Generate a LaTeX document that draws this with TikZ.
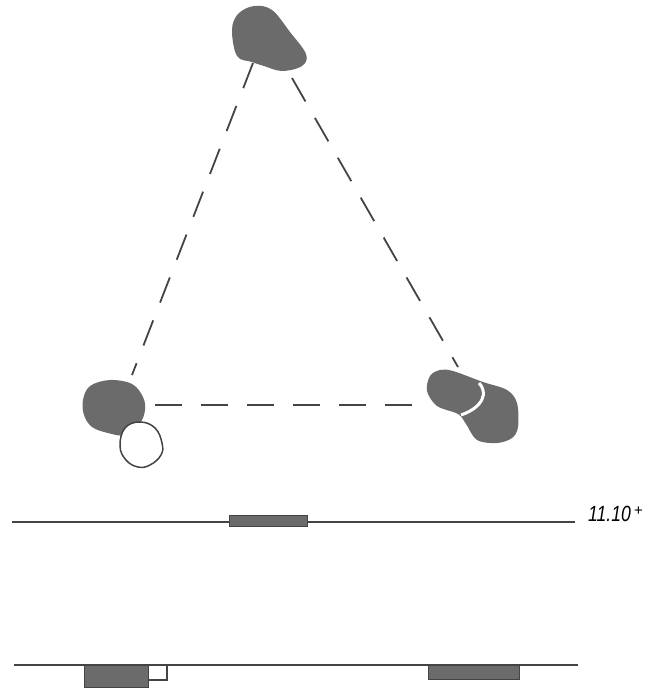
\documentclass[tikz,border=0pt]{standalone}
\usepackage{fontspec}
\setsansfont{Liberation Sans}
\begin{document}
\begin{tikzpicture}[x={(1pt,0)},y={(0,-1pt)},
  blob/.style={fill=blobgrey,draw=none},
  link/.style={draw=linegrey,line width=1.8pt,dash pattern=on 27pt off 19pt},
  axis/.style={draw=linegrey,line width=1.3pt},
  bar/.style={fill=blobgrey,draw=linegrey,line width=0.8pt},
  openbar/.style={fill=white,draw=linegrey,line width=1.2pt}]
\definecolor{blobgrey}{HTML}{6B6B6B}
\definecolor{linegrey}{HTML}{444444}
\useasboundingbox (0,0) rectangle (664,694);
% blobs
\fill[blob] plot[smooth cycle,tension=0.6] coordinates {(232,30) (238,14) (254,6) (272,10) (290,32) (306,54) (302,66) (282,71) (264,66) (252,62) (237,56)};
\fill[blob] plot[smooth cycle,tension=0.6] coordinates {(83,400) (90,386) (110,380) (132,384) (143,397) (145,410) (140,423) (125,435) (108,433) (92,427) (84,415)};
\filldraw[fill=white,draw=linegrey,line width=1.5pt] plot[smooth cycle,tension=0.7] coordinates {(125,428) (140,422) (155,428) (162,443) (161,455) (150,465) (138,467) (126,460) (120,446)};
\fill[blob] plot[smooth cycle,tension=0.55] coordinates {(430,376) (440,370) (453,371) (483,382) (507,390) (517,403) (518,427) (512,438) (497,443) (477,440) (466,424) (458,414) (437,406) (427,391)};
\draw[white,line width=3pt] (479,383) .. controls (488,392) and (484,407) .. (461,415);
% connectors
\coordinate (tl) at (253,63); \coordinate (bl) at (132,375);
\coordinate (tr) at (292,78); \coordinate (br) at (458,367);
\coordinate (lb) at (155,405); \coordinate (rb) at (413,405);
\draw[link] (tl) -- (bl);
\draw[link] (tr) -- (br);
\draw[link] (lb) -- (rb);
% top track
\coordinate (a1) at (12,522); \coordinate (a2) at (575,522);
\draw[axis] (a1) -- (a2);
\draw[bar] (229,515) rectangle (307,526);
\node[anchor=base west,inner sep=0pt,text=black,font=\sffamily\itshape\fontsize{22}{22}\selectfont] (lab) at (588,521) {\scalebox{0.80}[1]{11.10}\hspace{3pt}\raisebox{6pt}{\fontsize{15}{15}\selectfont +}};
% bottom track
\coordinate (b1) at (14,665); \coordinate (b2) at (578,665);
\draw[axis] (b1) -- (b2);
\draw[openbar] (148,665) rectangle (167,680);
\draw[bar] (84,665) rectangle (148,687);
\draw[bar] (428,665) rectangle (519,679);
\end{tikzpicture}
\end{document}
